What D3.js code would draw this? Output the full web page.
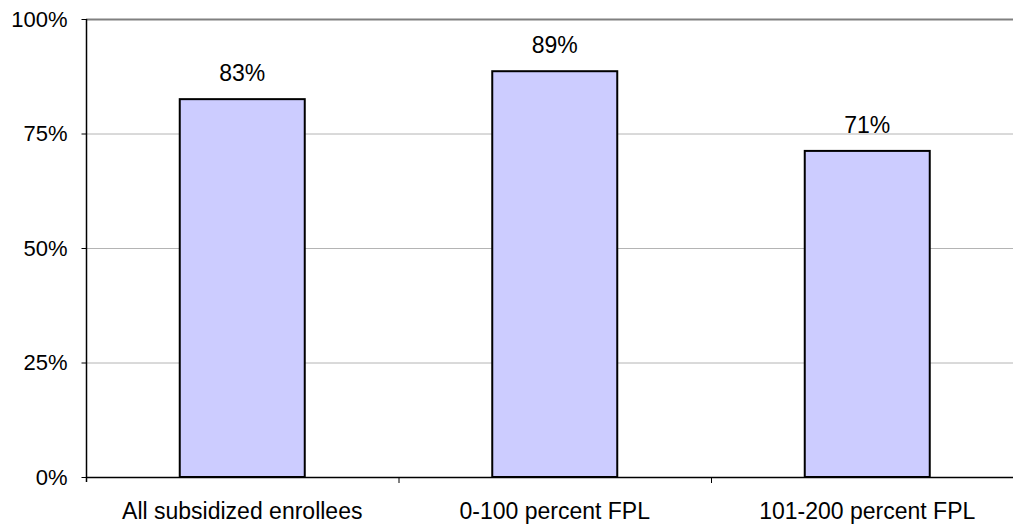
<!DOCTYPE html>
<html><head><meta charset="utf-8">
<script src="https://cdn.jsdelivr.net/npm/d3@7"></script>
<style>body{margin:0;background:#fff}svg{display:block;font-family:"Liberation Sans",Arial,sans-serif}</style>
</head><body>
<svg id="c" width="1013" height="529"></svg>
<script>
const categories = ["All subsidized enrollees", "0-100 percent FPL", "101-200 percent FPL"];
const values = [82.5, 88.6, 71.2];
const valueLabels = ["83%", "89%", "71%"];
const yTicks = [0, 25, 50, 75, 100];
const yTickLabels = ["0%", "25%", "50%", "75%", "100%"];

(function () {
const svg = d3.select("#c");
const pLeft = 86, pTop = 19, pBottom = 477, bandW = 312.5;
const FS = 22, FSX = 23;
const x = d3.scaleBand().domain(categories).range([pLeft, pLeft + bandW * categories.length]).paddingInner(0).paddingOuter(0);
const y = d3.scaleLinear().domain([0, 100]).range([pBottom, pTop]);

// gridlines
svg.append("g").selectAll("line").data(yTicks.filter(d => d > 0)).join("line")
  .attr("x1", pLeft).attr("x2", 1013)
  .attr("y1", d => y(d) + 0.5).attr("y2", d => y(d) + 0.5)
  .attr("stroke", d => d === 100 ? "#808080" : "#b4b4b4")
  .attr("stroke-width", d => d === 100 ? 2 : 1);

// bars
const bw = bandW * 0.4;
svg.append("g").selectAll("rect").data(values).join("rect")
  .attr("x", (d, i) => x(categories[i]) + (bandW - bw) / 2)
  .attr("y", d => y(d))
  .attr("width", bw)
  .attr("height", d => pBottom - y(d))
  .attr("fill", "#ccccff").attr("stroke", "#000").attr("stroke-width", 2);

// value labels
svg.append("g").selectAll("text").data(values).join("text")
  .attr("x", (d, i) => x(categories[i]) + bandW / 2)
  .attr("y", d => y(d) - 18)
  .attr("text-anchor", "middle").attr("font-size", FSX).attr("fill", "#000")
  .text((d, i) => valueLabels[i]);

// y axis
const yAxis = d3.axisLeft(y).tickValues(yTicks).tickFormat((d, i) => yTickLabels[i]).tickSize(5).tickPadding(14);
const gy = svg.append("g").attr("transform", `translate(${pLeft + 0.5},0)`).call(yAxis);
gy.attr("font-size", FS).attr("font-family", null);
gy.select(".domain").attr("stroke", "#000").attr("stroke-width", 1.5).attr("d", `M0,${pTop}V${pBottom + 5}`);
gy.selectAll(".tick line").attr("stroke", "#000");
gy.selectAll("text").attr("fill", "#000");

// x axis
const xAxis = d3.axisBottom(x).tickSize(0).tickPadding(25);
const gx = svg.append("g").attr("transform", `translate(0,${pBottom + 0.5})`).call(xAxis);
gx.attr("font-size", FSX).attr("font-family", null);
gx.select(".domain").attr("stroke", "#000").attr("stroke-width", 1.5).attr("d", `M${pLeft},0H1013`);
gx.selectAll("text").attr("fill", "#000");
// category separator ticks
svg.append("g").selectAll("line").data(categories.slice(1)).join("line")
  .attr("x1", d => x(d) + 0.5).attr("x2", d => x(d) + 0.5)
  .attr("y1", pBottom).attr("y2", pBottom + 6).attr("stroke", "#000");
})();
</script>
</body></html>
